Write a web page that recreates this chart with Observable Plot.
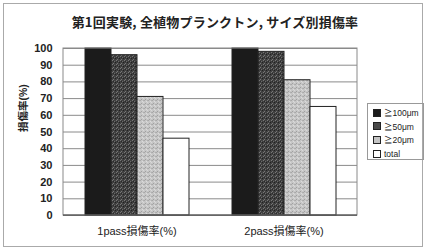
<!DOCTYPE html>
<html><head><meta charset="utf-8">
<script src="https://cdn.jsdelivr.net/npm/d3@7"></script>
<script src="https://cdn.jsdelivr.net/npm/@observablehq/plot@0.6"></script>
<style>
html,body{margin:0;padding:0;background:#fff;}
#wrap{position:relative;width:430px;height:252px;font-family:"Noto Sans CJK JP","Liberation Sans",sans-serif;color:#222;}
#border{position:absolute;left:3px;top:3px;width:420px;height:244px;border:1px solid #aaa;box-sizing:border-box;}
#title{position:absolute;left:0;width:430px;top:12px;text-align:center;font-size:13px;font-weight:600;letter-spacing:0.2px;}
#legend{position:absolute;left:367px;top:103px;width:57px;height:57px;border:1px solid #999;box-sizing:border-box;font-family:"Liberation Sans","Noto Sans CJK JP",sans-serif;font-size:8.5px;}
.item{position:absolute;left:5px;height:10px;line-height:10px;white-space:nowrap;}
.sw{display:inline-block;width:6px;height:6px;border:1px solid #222;vertical-align:middle;margin-right:3px;margin-top:-2px;}
svg text{fill:#222;}
</style></head>
<body><div id="wrap"><div id="border"></div><div id="title"></div><div id="legend"></div></div>
<script>
const title = "第1回実験, 全植物プランクトン, サイズ別損傷率";
const groups = ["1pass損傷率(%)", "2pass損傷率(%)"];
const series = ["≧100μm", "≧50μm", "≧20μm", "total"];
const pass1 = [100, 96, 71, 46];
const pass2 = [100, 98, 81, 65];
const yTicks = [0, 10, 20, 30, 40, 50, 60, 70, 80, 90, 100];
const yLabel = "損傷率(%)";
const fills = ["#1b1b1b", "url(#p50)", "url(#p20)", "#ffffff"];
const legendFills = ["#1b1b1b", "#4a4a4a", "#c4c4c4", "#ffffff"];

const data = [];
[pass1, pass2].forEach((vals, gi) => vals.forEach((v, si) => data.push({group: groups[gi], series: series[si], value: v})));

const marginLeft = 63, marginRight = 73, marginTop = 48, marginBottom = 37;
const plot = Plot.plot({
  width: 430, height: 252,
  marginLeft, marginRight, marginTop, marginBottom,
  style: {fontFamily: "'Liberation Sans','Noto Sans CJK JP',sans-serif", fontSize: "11px", background: "transparent"},
  fx: {domain: groups, padding: 0, label: null, tickSize: 0, tickPadding: 12},
  x: {domain: series, paddingInner: 0, paddingOuter: 0.748, axis: null},
  y: {domain: [0, 100], ticks: yTicks, label: null, tickSize: 0, tickPadding: 11, grid: false},
  color: {domain: series, range: fills},
  marks: [
    Plot.gridY(yTicks, {stroke: "#8a8a8a", strokeOpacity: 1, strokeWidth: 1}),
    Plot.barY(data, {fx: "group", x: "series", y: "value", fill: "series", stroke: "#222", strokeWidth: 1}),
    Plot.text([yLabel], {fx: () => groups[0], text: d => d, frameAnchor: "left", rotate: -90, dx: -40, fontSize: 10.5, fontWeight: "bold"})
  ]
});

const svg = d3.select(plot);
const defs = svg.insert("defs", ":first-child");
function pat(id, base, dots) {
  const p = defs.append("pattern").attr("id", id).attr("patternUnits", "userSpaceOnUse").attr("width", 4).attr("height", 4);
  p.append("rect").attr("width", 4).attr("height", 4).attr("fill", base);
  dots.forEach(([x, y, c]) => p.append("rect").attr("x", x).attr("y", y).attr("width", 1).attr("height", 1).attr("fill", c));
}
pat("p50", "#404040", [[0,0,"#777"],[2,1,"#6a6a6a"],[1,3,"#777"],[3,2,"#222"],[1,1,"#2a2a2a"]]);
pat("p20", "#c6c6c6", [[0,0,"#a8a8a8"],[2,1,"#dcdcdc"],[1,3,"#a0a0a0"],[3,2,"#d8d8d8"],[3,0,"#b0b0b0"]]);

// plot-area frame
const ys = plot.scale("y");
svg.append("rect")
  .attr("x", marginLeft).attr("y", ys.apply(100))
  .attr("width", 430 - marginLeft - marginRight).attr("height", ys.apply(0) - ys.apply(100))
  .attr("fill", "none").attr("stroke", "#8a8a8a");
svg.append("line").attr("x1", marginLeft).attr("x2", 430 - marginRight)
  .attr("y1", ys.apply(0)).attr("y2", ys.apply(0)).attr("stroke", "#444");
svg.selectAll("g[aria-label='y-axis tick label'] text, g[aria-label='y-axis'] text").style("font-weight", "bold");

d3.select("#wrap").append(() => plot);
d3.select("#title").text(title);
const lg = d3.select("#legend");
series.forEach((s, i) => {
  const it = lg.append("div").attr("class", "item").style("top", (4 + i * 13.7) + "px");
  it.append("span").attr("class", "sw").style("background", legendFills[i]);
  it.append("span").text(s);
});
</script></body></html>
